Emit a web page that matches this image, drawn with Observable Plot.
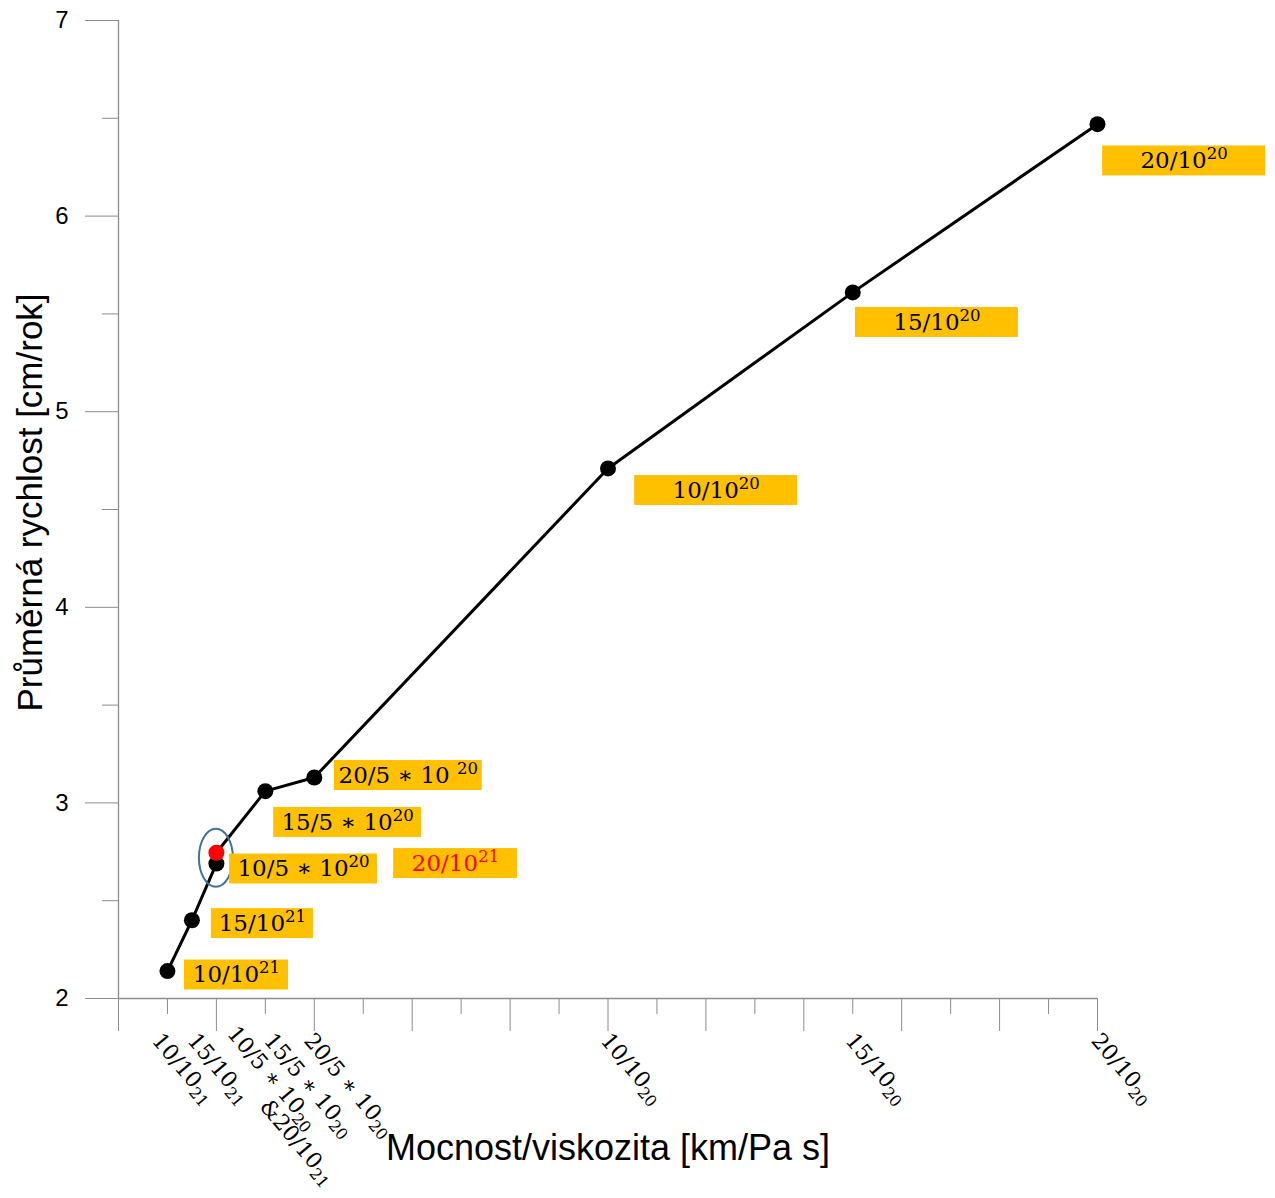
<!DOCTYPE html>
<html>
<head>
<meta charset="utf-8">
<script src="https://cdn.jsdelivr.net/npm/d3@7"></script>
<script src="https://cdn.jsdelivr.net/npm/@observablehq/plot@0.6"></script>
<style>
  body { margin: 0; background: #fff; }
</style>
</head>
<body>
<div id="chart"></div>
<script>
// Model runs: crust thickness [km] / viscosity [Pa s]; "^n" marks an exponent, "_n" a lowered one.
const runNames = ["10/10^21", "15/10^21", "10/5 ∗ 10^20", "15/5 ∗ 10^20", "20/5 ∗ 10 ^20", "10/10^20", "15/10^20", "20/10^20"];
// Ratio in units of 1e-20 km/(Pa s)
const ratio = [1, 1.5, 2, 3, 4, 10, 15, 20];
// Mean velocity [cm/yr]
const velocity = [2.14, 2.40, 2.69, 3.06, 3.13, 4.71, 5.61, 6.47];

// The extra run that lands on the same ratio as 10/5*10^20
const extraName = "20/10^21";
const extraRatio = 2;
const extraVelocity = 2.745;

// Tick labels under the x axis and where each one starts (data units)
const indent = "\u00a0".repeat(11);
const tickLabels = ["10/10_21", "15/10_21", "10/5 ∗ 10_20\n" + indent + "&20/10_21", "15/5 ∗ 10_20", "20/5 ∗ 10_20", "10/10_20", "15/10_20", "20/10_20"];
const tickLabelAt = [0.775, 1.5, 2.14, 3.06, 3.88, 9.94, 14.94, 19.96];
const yTicks = [2, 3, 4, 5, 6, 7];

// Label boxes: centre and width in data units (drawn through the scales)
const boxText = ["10/10^21", "15/10^21", "10/5 ∗ 10^20", extraName, "15/5 ∗ 10^20", "20/5 ∗ 10 ^20", "10/10^20", "15/10^20", "20/10^20"];
const boxX = [2.41, 2.94, 3.78, 6.885, 4.68, 5.92, 12.21, 16.72, 21.77];
const boxY = [2.12, 2.383, 2.662, 2.69, 2.90, 3.14, 4.597, 5.456, 6.282];
const boxW = [2.125, 2.084, 3.02, 2.53, 3.02, 3.02, 3.33, 3.33, 3.33];
const boxH = 0.153;
const boxInk = ["black", "black", "black", "red", "black", "black", "black", "black", "black"];

const runs = ratio.map((r, i) => ({name: runNames[i], r, v: velocity[i]}));
const path = [...runs.slice(0, 3), {name: extraName, r: extraRatio, v: extraVelocity}, ...runs.slice(3)];
const boxes = boxText.map((t, i) => ({t, x: boxX[i], y: boxY[i], w: boxW[i], ink: boxInk[i]}));

const grey = "#8c8c8c";
const serif = "DejaVu Serif";
const sans = "Liberation Sans";

// Blue ring around the coinciding pair of runs
function ring(index, scales) {
  const e = document.createElementNS("http://www.w3.org/2000/svg", "ellipse");
  e.setAttribute("cx", scales.x(extraRatio));
  e.setAttribute("cy", scales.y((extraVelocity + velocity[2]) / 2));
  e.setAttribute("rx", 17);
  e.setAttribute("ry", 29);
  e.setAttribute("fill", "none");
  e.setAttribute("stroke", "#41719c");
  e.setAttribute("stroke-width", 2);
  return e;
}

const chart = Plot.plot({
  width: 1275,
  height: 1198,
  marginLeft: 118,
  marginRight: 178,
  marginTop: 20,
  marginBottom: 200,
  style: {fontFamily: sans, background: "#fff"},
  x: {domain: [0, 20]},
  y: {domain: [2, 7]},
  marks: [
    // axes: long and short ticks
    Plot.axisX({ticks: d3.range(0, 21, 2), tickSize: 33, stroke: grey, tickFormat: () => "", label: null}),
    Plot.axisX({ticks: d3.range(1, 20, 2), tickSize: 16, stroke: grey, tickFormat: () => "", label: null}),
    Plot.axisY({ticks: yTicks, tickSize: 33, stroke: grey, tickFormat: () => "", label: null}),
    Plot.axisY({ticks: d3.range(2.5, 7, 1), tickSize: 16, stroke: grey, tickFormat: () => "", label: null}),
    Plot.ruleY([2], {stroke: grey, strokeWidth: 1.3}),
    Plot.ruleX([0], {stroke: grey, strokeWidth: 1.3}),
    // y tick values
    Plot.text(yTicks, {y: d => d, frameAnchor: "left", dx: -50, textAnchor: "end", fontSize: 24, fill: "black"}),
    // rotated run labels under the x axis
    Plot.text(tickLabels, {x: tickLabelAt, frameAnchor: "bottom", dy: 38, rotate: 50, textAnchor: "start", lineAnchor: "middle", fontFamily: serif, fontSize: 22, fill: "black"}),
    // curve and points
    Plot.line(path, {x: "r", y: "v", stroke: "black", strokeWidth: 3}),
    Plot.dot(runs, {x: "r", y: "v", r: 8, fill: "black"}),
    Plot.dot([{r: extraRatio, v: extraVelocity}], {x: "r", y: "v", r: 8, fill: "#ff0000"}),
    ring,
    // orange label boxes
    Plot.rect(boxes, {x1: d => d.x - d.w / 2, x2: d => d.x + d.w / 2, y1: d => d.y - boxH / 2, y2: d => d.y + boxH / 2, fill: "#ffc000"}),
    Plot.text(boxes, {x: "x", y: "y", text: "t", fill: "ink", fontFamily: serif, fontSize: 23, textAnchor: "middle", lineAnchor: "middle"}),
    // axis titles
    Plot.text(["Mocnost/viskozita [km/Pa s]"], {frameAnchor: "bottom", dy: 150, fontSize: 36, fill: "black", textAnchor: "middle", lineAnchor: "middle"}),
    Plot.text(["Průměrná rychlost [cm/rok]"], {frameAnchor: "left", dx: -88, dy: -7, rotate: -90, fontSize: 35, fill: "black", textAnchor: "middle", lineAnchor: "middle"})
  ]
});

// Turn "^n" / "_n" into raised / lowered tspans
function scriptify(root) {
  const ns = "http://www.w3.org/2000/svg";
  root.querySelectorAll("text, tspan").forEach(node => {
    if (node.childNodes.length !== 1 || node.firstChild.nodeType !== 3) return;
    const s = node.textContent;
    if (!/[\^_]\d/.test(s)) return;
    node.textContent = "";
    for (const part of s.split(/([\^_]\d+)/)) {
      if (!part) continue;
      const t = document.createElementNS(ns, "tspan");
      if (part[0] === "^" || part[0] === "_") {
        t.setAttribute("font-size", "72%");
        t.setAttribute("baseline-shift", part[0] === "^" ? "0.55em" : "-0.3em");
        t.textContent = part.slice(1);
      } else {
        t.textContent = part;
      }
      node.appendChild(t);
    }
  });
}
scriptify(chart);

document.getElementById("chart").appendChild(chart);
</script>
</body>
</html>
